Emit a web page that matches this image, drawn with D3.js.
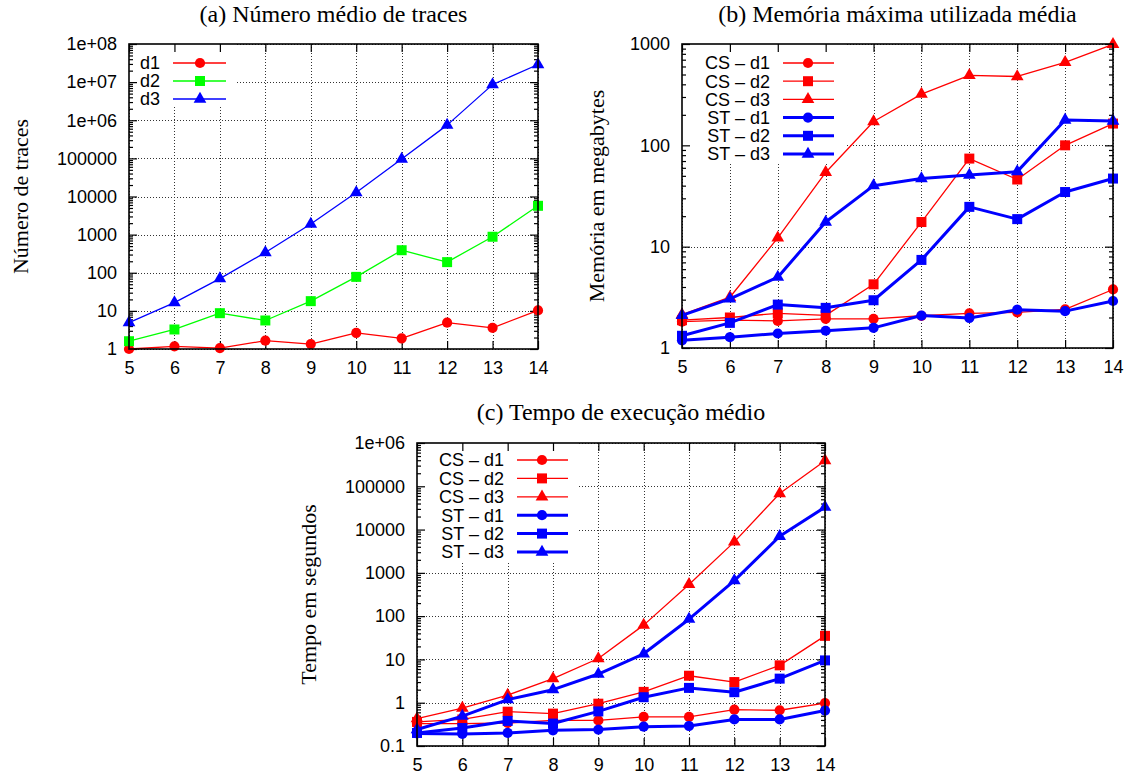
<!DOCTYPE html>
<html>
<head>
<meta charset="utf-8">
<script src="https://cdn.jsdelivr.net/npm/d3@7"></script>
<style>
  body { margin: 0; background: #fff; }
  svg { display: block; }
</style>
</head>
<body>
<svg id="chart" width="1130" height="776"></svg>
<script>
// x values shared by all three panels
var nValues = [5, 6, 7, 8, 9, 10, 11, 12, 13, 14];

// (a) numero medio de traces
var tracesD1 = [1.0, 1.17, 1.06, 1.65, 1.35, 2.64, 1.91, 4.9, 3.6, 10.3];
var tracesD2 = [1.6, 3.25, 8.7, 5.6, 18, 78, 390, 190, 880, 5700];
var tracesD3 = [4.9, 16.5, 70, 340, 1900, 12700, 96000, 745000, 8.6e6, 2.9e7];

// (b) memoria maxima utilizada media (MB)
var memCsD1 = [1.82, 1.88, 1.85, 1.94, 1.94, 2.08, 2.2, 2.25, 2.4, 3.78];
var memCsD2 = [1.88, 2.0, 2.2, 2.1, 4.25, 17.5, 74, 46, 100, 164];
var memCsD3 = [2.14, 3.17, 12.2, 54, 172, 320, 490, 478, 660, 990];
var memStD1 = [1.19, 1.28, 1.39, 1.48, 1.58, 2.09, 1.98, 2.39, 2.31, 2.91];
var memStD2 = [1.32, 1.77, 2.68, 2.49, 2.96, 7.4, 24.7, 18.7, 34.6, 47];
var memStD3 = [2.1, 3.05, 5.0, 17.5, 40, 47, 51, 55, 178, 174];

// (c) tempo de execucao medio (s)
var timeCsD1 = [0.33, 0.33, 0.34, 0.39, 0.39, 0.47, 0.47, 0.69, 0.67, 0.98];
var timeCsD2 = [0.36, 0.41, 0.62, 0.56, 0.95, 1.78, 4.2, 3.0, 7.3, 35];
var timeCsD3 = [0.43, 0.75, 1.5, 3.6, 10.5, 62, 540, 5200, 68000, 390000];
var timeStD1 = [0.195, 0.19, 0.2, 0.23, 0.24, 0.28, 0.29, 0.41, 0.41, 0.66];
var timeStD2 = [0.2, 0.26, 0.38, 0.33, 0.63, 1.34, 2.2, 1.75, 3.6, 9.5];
var timeStD3 = [0.24, 0.49, 1.18, 2.0, 4.6, 13.5, 85, 660, 7000, 33000];

// tick values and labels
var tracesTicks = [1, 10, 100, 1000, 1e4, 1e5, 1e6, 1e7, 1e8];
var tracesTickLabels = ['1', '10', '100', '1000', '10000', '100000', '1e+06', '1e+07', '1e+08'];
var memTicks = [1, 10, 100, 1000];
var memTickLabels = ['1', '10', '100', '1000'];
var timeTicks = [0.1, 1, 10, 100, 1000, 1e4, 1e5, 1e6];
var timeTickLabels = ['0.1', '1', '10', '100', '1000', '10000', '100000', '1e+06'];

var RED = '#ff0000', GREEN = '#00ff00', BLUE = '#0000ff';
var svg = d3.select('#chart');

// minor log ticks 2..9 of every decade inside the domain
function minorTicks(domain) {
  var out = [];
  var lo = Math.floor(Math.log10(domain[0])), hi = Math.ceil(Math.log10(domain[1]));
  for (var e = lo; e < hi; e++) {
    for (var m = 2; m <= 9; m++) {
      var v = m * Math.pow(10, e);
      if (v > domain[0] && v < domain[1]) out.push(v);
    }
  }
  return out;
}

function symbolFor(shape) {
  if (shape === 'circle') return d3.symbol().type(d3.symbolCircle).size(82);
  if (shape === 'square') return d3.symbol().type(d3.symbolSquare).size(100);
  return d3.symbol().type(d3.symbolTriangle).size(70);
}

function drawPanel(cfg) {
  var x = d3.scaleLinear().domain([5, 14]).range([cfg.left, cfg.right]);
  var y = d3.scaleLog().domain(cfg.domain).range([cfg.bottom, cfg.top]);
  var g = svg.append('g');

  // grid
  var grid = g.append('g')
    .attr('stroke', '#333')
    .attr('stroke-width', 1)
    .attr('stroke-dasharray', '1,2');
  grid.selectAll('.gx').data(nValues).enter().append('line')
    .attr('x1', function(d) { return Math.round(x(d)) + 0.5; })
    .attr('x2', function(d) { return Math.round(x(d)) + 0.5; })
    .attr('y1', cfg.top).attr('y2', cfg.bottom);
  grid.selectAll('.gy').data(cfg.ticks).enter().append('line')
    .attr('y1', function(d) { return Math.round(y(d)) + 0.5; })
    .attr('y2', function(d) { return Math.round(y(d)) + 0.5; })
    .attr('x1', cfg.left).attr('x2', cfg.right);

  // key background hides the grid
  var lg = cfg.legend;
  g.append('rect')
    .attr('x', cfg.left).attr('y', cfg.top)
    .attr('width', lg.boxW).attr('height', lg.boxH)
    .attr('fill', '#fff');

  // axes (ticks point inward)
  function styleAxis(sel) {
    sel.select('.domain').remove();
    sel.selectAll('line').attr('stroke', '#000').attr('stroke-width', 1.2);
    sel.selectAll('text')
      .attr('font-family', 'Liberation Sans, Arial, sans-serif')
      .attr('font-size', 18)
      .attr('fill', '#000');
  }
  var minors = minorTicks(cfg.domain);

  g.append('g').attr('transform', 'translate(0,' + cfg.bottom + ')')
    .call(d3.axisBottom(x).tickValues(nValues).tickFormat(d3.format('d'))
      .tickSizeInner(-8).tickSizeOuter(0).tickPadding(12))
    .call(styleAxis);
  g.append('g').attr('transform', 'translate(0,' + cfg.top + ')')
    .call(d3.axisTop(x).tickValues(nValues).tickFormat('')
      .tickSizeInner(-8).tickSizeOuter(0))
    .call(styleAxis);
  g.append('g').attr('transform', 'translate(' + cfg.left + ',0)')
    .call(d3.axisLeft(y).tickValues(cfg.ticks)
      .tickFormat(function(d, i) { return cfg.tickLabels[i]; })
      .tickSizeInner(-8).tickSizeOuter(0).tickPadding(12))
    .call(styleAxis);
  g.append('g').attr('transform', 'translate(' + cfg.left + ',0)')
    .call(d3.axisLeft(y).tickValues(minors).tickFormat('')
      .tickSizeInner(-4).tickSizeOuter(0))
    .call(styleAxis);
  g.append('g').attr('transform', 'translate(' + cfg.right + ',0)')
    .call(d3.axisRight(y).tickValues(cfg.ticks).tickFormat('')
      .tickSizeInner(-8).tickSizeOuter(0))
    .call(styleAxis);
  g.append('g').attr('transform', 'translate(' + cfg.right + ',0)')
    .call(d3.axisRight(y).tickValues(minors).tickFormat('')
      .tickSizeInner(-4).tickSizeOuter(0))
    .call(styleAxis);

  // series
  var line = d3.line()
    .x(function(d) { return x(d[0]); })
    .y(function(d) { return y(d[1]); });
  cfg.series.forEach(function(s) {
    var pts = nValues.map(function(n, i) { return [n, s.values[i]]; });
    g.append('path').datum(pts)
      .attr('d', line)
      .attr('fill', 'none')
      .attr('stroke', s.color)
      .attr('stroke-width', s.width)
      .attr('stroke-linejoin', 'round');
    g.selectAll(null).data(pts).enter().append('path')
      .attr('d', symbolFor(s.shape))
      .attr('transform', function(d) { return 'translate(' + x(d[0]) + ',' + y(d[1]) + ')'; })
      .attr('fill', s.color);
  });

  // key
  cfg.series.forEach(function(s, i) {
    var ry = lg.rowY + i * lg.rowStep;
    g.append('text')
      .attr('x', lg.textRight).attr('y', ry)
      .attr('dy', '0.36em')
      .attr('text-anchor', 'end')
      .attr('font-family', 'Liberation Sans, Arial, sans-serif')
      .attr('font-size', 18)
      .text(s.name);
    g.append('line')
      .attr('x1', lg.lineX0).attr('x2', lg.lineX1)
      .attr('y1', ry).attr('y2', ry)
      .attr('stroke', s.color).attr('stroke-width', s.width);
    g.append('path')
      .attr('d', symbolFor(s.shape))
      .attr('transform', 'translate(' + lg.markerX + ',' + ry + ')')
      .attr('fill', s.color);
  });

  // frame
  g.append('rect')
    .attr('x', cfg.left).attr('y', cfg.top)
    .attr('width', cfg.right - cfg.left).attr('height', cfg.bottom - cfg.top)
    .attr('fill', 'none').attr('stroke', '#000').attr('stroke-width', 1.6);

  // title
  svg.append('text')
    .attr('x', (cfg.left + cfg.right) / 2).attr('y', cfg.titleY)
    .attr('text-anchor', 'middle')
    .attr('font-family', 'Liberation Serif, Times New Roman, serif')
    .attr('font-size', 24)
    .text(cfg.title);

  // y label
  svg.append('text')
    .attr('transform', 'translate(' + cfg.yLabelX + ',' + (cfg.top + cfg.bottom) / 2 + ') rotate(-90)')
    .attr('text-anchor', 'middle')
    .attr('font-family', 'Liberation Serif, Times New Roman, serif')
    .attr('font-size', 22)
    .text(cfg.yLabel);
}

drawPanel({
  left: 129, right: 538, top: 44, bottom: 349,
  domain: [1, 1e8], ticks: tracesTicks, tickLabels: tracesTickLabels,
  title: '(a) Número médio de traces', titleY: 22,
  yLabel: 'Número de traces', yLabelX: 28,
  legend: { boxW: 108, boxH: 63, textRight: 160, lineX0: 173, lineX1: 226, markerX: 200, rowY: 63, rowStep: 18 },
  series: [
    { name: 'd1', values: tracesD1, color: RED, width: 1.3, shape: 'circle' },
    { name: 'd2', values: tracesD2, color: GREEN, width: 1.3, shape: 'square' },
    { name: 'd3', values: tracesD3, color: BLUE, width: 1.3, shape: 'triangle' }
  ]
});

drawPanel({
  left: 682, right: 1113, top: 44, bottom: 348,
  domain: [1, 1000], ticks: memTicks, tickLabels: memTickLabels,
  title: '(b) Memória máxima utilizada média', titleY: 22,
  yLabel: 'Memória em megabytes', yLabelX: 604,
  legend: { boxW: 163, boxH: 118, textRight: 770, lineX0: 783, lineX1: 834, markerX: 808, rowY: 63, rowStep: 18.2 },
  series: [
    { name: 'CS \u2013 d1', values: memCsD1, color: RED, width: 1.3, shape: 'circle' },
    { name: 'CS \u2013 d2', values: memCsD2, color: RED, width: 1.3, shape: 'square' },
    { name: 'CS \u2013 d3', values: memCsD3, color: RED, width: 1.3, shape: 'triangle' },
    { name: 'ST \u2013 d1', values: memStD1, color: BLUE, width: 3, shape: 'circle' },
    { name: 'ST \u2013 d2', values: memStD2, color: BLUE, width: 3, shape: 'square' },
    { name: 'ST \u2013 d3', values: memStD3, color: BLUE, width: 3, shape: 'triangle' }
  ]
});

drawPanel({
  left: 417, right: 825, top: 443, bottom: 746,
  domain: [0.1, 1e6], ticks: timeTicks, tickLabels: timeTickLabels,
  title: '(c) Tempo de execução médio', titleY: 420,
  yLabel: 'Tempo em segundos', yLabelX: 316,
  legend: { boxW: 161, boxH: 118, textRight: 504, lineX0: 517, lineX1: 568, markerX: 542, rowY: 460, rowStep: 18.4 },
  series: [
    { name: 'CS \u2013 d1', values: timeCsD1, color: RED, width: 1.3, shape: 'circle' },
    { name: 'CS \u2013 d2', values: timeCsD2, color: RED, width: 1.3, shape: 'square' },
    { name: 'CS \u2013 d3', values: timeCsD3, color: RED, width: 1.3, shape: 'triangle' },
    { name: 'ST \u2013 d1', values: timeStD1, color: BLUE, width: 3, shape: 'circle' },
    { name: 'ST \u2013 d2', values: timeStD2, color: BLUE, width: 3, shape: 'square' },
    { name: 'ST \u2013 d3', values: timeStD3, color: BLUE, width: 3, shape: 'triangle' }
  ]
});
</script>
</body>
</html>
